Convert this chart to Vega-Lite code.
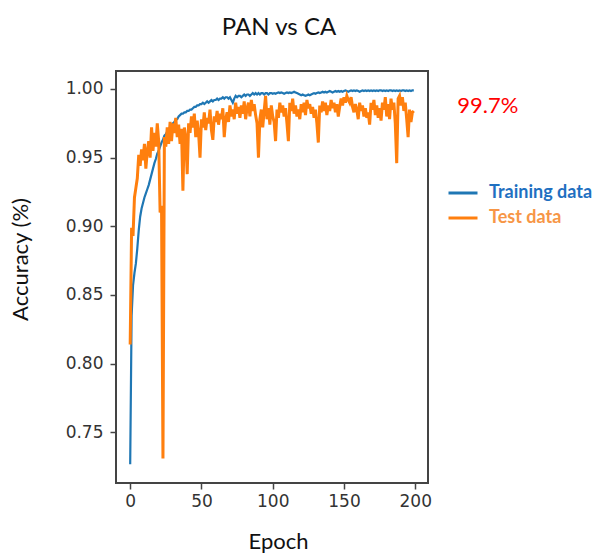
{
  "$schema": "https://vega.github.io/schema/vega-lite/v6.json",
  "width": 312,
  "height": 412,
  "autosize": {"type": "none"},
  "padding": {"left": 116, "top": 71, "right": 170, "bottom": 71},
  "background": "white",
  "title": {"text": "PAN vs CA", "font": "Lato", "fontSize": 24, "fontWeight": "normal", "color": "#111", "anchor": "middle", "dx": 7, "baseline": "alphabetic", "offset": 12},
  "config": {
    "view": {"stroke": "#444", "strokeWidth": 2},
    "axis": {"labelFont": "DejaVu Sans", "labelFontSize": 17, "labelColor": "#333", "tickColor": "#444", "tickWidth": 1.5, "tickSize": 6, "domain": false, "grid": false, "titleFont": "Lato", "titleFontSize": 22, "titleFontWeight": "normal", "titleColor": "#111"}
  },
  "data": {"values": [
{"epoch":0,"train":0.7267,"test":0.814},{"epoch":1,"train":0.835,"test":0.899},{"epoch":2,"train":0.857,"test":0.893},{"epoch":3,"train":0.866,"test":0.921},{"epoch":4,"train":0.873,"test":0.928},{"epoch":5,"train":0.884,"test":0.935},{"epoch":6,"train":0.897,"test":0.952},{"epoch":7,"train":0.907,"test":0.944},{"epoch":8,"train":0.913,"test":0.956},{"epoch":9,"train":0.917,"test":0.948},
{"epoch":10,"train":0.921,"test":0.96},{"epoch":11,"train":0.924,"test":0.942},{"epoch":12,"train":0.927,"test":0.955},{"epoch":13,"train":0.93,"test":0.962},{"epoch":14,"train":0.934,"test":0.95},{"epoch":15,"train":0.938,"test":0.972},{"epoch":16,"train":0.942,"test":0.955},{"epoch":17,"train":0.946,"test":0.968},{"epoch":18,"train":0.949,"test":0.958},{"epoch":19,"train":0.953,"test":0.975},
{"epoch":20,"train":0.955,"test":0.962},{"epoch":21,"train":0.958,"test":0.91},{"epoch":22,"train":0.961,"test":0.915},{"epoch":23,"train":0.963,"test":0.731},{"epoch":24,"train":0.966,"test":0.965},{"epoch":25,"train":0.967,"test":0.958},{"epoch":26,"train":0.969,"test":0.972},{"epoch":27,"train":0.971,"test":0.96},{"epoch":28,"train":0.972,"test":0.976},{"epoch":29,"train":0.974,"test":0.962},
{"epoch":30,"train":0.975,"test":0.975},{"epoch":31,"train":0.976,"test":0.968},{"epoch":32,"train":0.978,"test":0.979},{"epoch":33,"train":0.978,"test":0.965},{"epoch":34,"train":0.98,"test":0.974},{"epoch":35,"train":0.981,"test":0.96},{"epoch":36,"train":0.982,"test":0.971},{"epoch":37,"train":0.982,"test":0.926},{"epoch":38,"train":0.983,"test":0.972},{"epoch":39,"train":0.983,"test":0.965},
{"epoch":40,"train":0.984,"test":0.938},{"epoch":41,"train":0.984,"test":0.975},{"epoch":42,"train":0.985,"test":0.968},{"epoch":43,"train":0.985,"test":0.98},{"epoch":44,"train":0.986,"test":0.972},{"epoch":45,"train":0.987,"test":0.982},{"epoch":46,"train":0.987,"test":0.965},{"epoch":47,"train":0.988,"test":0.977},{"epoch":48,"train":0.988,"test":0.968},{"epoch":49,"train":0.989,"test":0.95},
{"epoch":50,"train":0.989,"test":0.978},{"epoch":51,"train":0.99,"test":0.972},{"epoch":52,"train":0.989,"test":0.983},{"epoch":53,"train":0.99,"test":0.97},{"epoch":54,"train":0.991,"test":0.979},{"epoch":55,"train":0.99,"test":0.975},{"epoch":56,"train":0.991,"test":0.985},{"epoch":57,"train":0.992,"test":0.97},{"epoch":58,"train":0.991,"test":0.963},{"epoch":59,"train":0.992,"test":0.98},
{"epoch":60,"train":0.992,"test":0.976},{"epoch":61,"train":0.993,"test":0.984},{"epoch":62,"train":0.992,"test":0.974},{"epoch":63,"train":0.993,"test":0.982},{"epoch":64,"train":0.993,"test":0.978},{"epoch":65,"train":0.994,"test":0.986},{"epoch":66,"train":0.993,"test":0.965},{"epoch":67,"train":0.994,"test":0.978},{"epoch":68,"train":0.994,"test":0.983},{"epoch":69,"train":0.993,"test":0.976},
{"epoch":70,"train":0.994,"test":0.988},{"epoch":71,"train":0.992,"test":0.98},{"epoch":72,"train":0.99,"test":0.985},{"epoch":73,"train":0.993,"test":0.978},{"epoch":74,"train":0.995,"test":0.99},{"epoch":75,"train":0.994,"test":0.982},{"epoch":76,"train":0.995,"test":0.987},{"epoch":77,"train":0.995,"test":0.979},{"epoch":78,"train":0.994,"test":0.988},{"epoch":79,"train":0.995,"test":0.982},
{"epoch":80,"train":0.996,"test":0.991},{"epoch":81,"train":0.995,"test":0.978},{"epoch":82,"train":0.996,"test":0.986},{"epoch":83,"train":0.996,"test":0.99},{"epoch":84,"train":0.995,"test":0.98},{"epoch":85,"train":0.996,"test":0.992},{"epoch":86,"train":0.997,"test":0.984},{"epoch":87,"train":0.996,"test":0.989},{"epoch":88,"train":0.997,"test":0.981},{"epoch":89,"train":0.996,"test":0.975},
{"epoch":90,"train":0.997,"test":0.95},{"epoch":91,"train":0.996,"test":0.978},{"epoch":92,"train":0.997,"test":0.985},{"epoch":93,"train":0.997,"test":0.972},{"epoch":94,"train":0.996,"test":0.984},{"epoch":95,"train":0.997,"test":0.995},{"epoch":96,"train":0.997,"test":0.978},{"epoch":97,"train":0.996,"test":0.986},{"epoch":98,"train":0.997,"test":0.974},{"epoch":99,"train":0.997,"test":0.988},
{"epoch":100,"train":0.9965,"test":0.98},{"epoch":101,"train":0.997,"test":0.976},{"epoch":102,"train":0.9965,"test":0.962},{"epoch":103,"train":0.997,"test":0.985},{"epoch":104,"train":0.9975,"test":0.979},{"epoch":105,"train":0.997,"test":0.99},{"epoch":106,"train":0.9975,"test":0.983},{"epoch":107,"train":0.997,"test":0.988},{"epoch":108,"train":0.9965,"test":0.98},{"epoch":109,"train":0.997,"test":0.986},
{"epoch":110,"train":0.9975,"test":0.975},{"epoch":111,"train":0.997,"test":0.962},{"epoch":112,"train":0.9975,"test":0.99},{"epoch":113,"train":0.997,"test":0.984},{"epoch":114,"train":0.9975,"test":0.993},{"epoch":115,"train":0.998,"test":0.982},{"epoch":116,"train":0.9975,"test":0.988},{"epoch":117,"train":0.997,"test":0.98},{"epoch":118,"train":0.9965,"test":0.985},{"epoch":119,"train":0.996,"test":0.978},
{"epoch":120,"train":0.9955,"test":0.989},{"epoch":121,"train":0.996,"test":0.983},{"epoch":122,"train":0.9955,"test":0.99},{"epoch":123,"train":0.995,"test":0.981},{"epoch":124,"train":0.9955,"test":0.992},{"epoch":125,"train":0.996,"test":0.986},{"epoch":126,"train":0.9955,"test":0.989},{"epoch":127,"train":0.996,"test":0.982},{"epoch":128,"train":0.9965,"test":0.987},{"epoch":129,"train":0.997,"test":0.979},
{"epoch":130,"train":0.9965,"test":0.985},{"epoch":131,"train":0.997,"test":0.975},{"epoch":132,"train":0.9975,"test":0.961},{"epoch":133,"train":0.997,"test":0.988},{"epoch":134,"train":0.9975,"test":0.983},{"epoch":135,"train":0.998,"test":0.991},{"epoch":136,"train":0.9975,"test":0.984},{"epoch":137,"train":0.998,"test":0.99},{"epoch":138,"train":0.9975,"test":0.981},{"epoch":139,"train":0.998,"test":0.988},
{"epoch":140,"train":0.9985,"test":0.984},{"epoch":141,"train":0.998,"test":0.992},{"epoch":142,"train":0.9975,"test":0.986},{"epoch":143,"train":0.998,"test":0.99},{"epoch":144,"train":0.9985,"test":0.983},{"epoch":145,"train":0.998,"test":0.989},{"epoch":146,"train":0.9985,"test":0.98},{"epoch":147,"train":0.998,"test":0.987},{"epoch":148,"train":0.9985,"test":0.993},{"epoch":149,"train":0.998,"test":0.988},
{"epoch":150,"train":0.9985,"test":0.994},{"epoch":151,"train":0.999,"test":0.99},{"epoch":152,"train":0.9985,"test":0.995},{"epoch":153,"train":0.998,"test":0.992},{"epoch":154,"train":0.9985,"test":0.99},{"epoch":155,"train":0.999,"test":0.994},{"epoch":156,"train":0.9985,"test":0.987},{"epoch":157,"train":0.999,"test":0.983},{"epoch":158,"train":0.9985,"test":0.989},{"epoch":159,"train":0.999,"test":0.985},
{"epoch":160,"train":0.9985,"test":0.978},{"epoch":161,"train":0.998,"test":0.99},{"epoch":162,"train":0.9985,"test":0.984},{"epoch":163,"train":0.999,"test":0.988},{"epoch":164,"train":0.9985,"test":0.98},{"epoch":165,"train":0.999,"test":0.986},{"epoch":166,"train":0.9985,"test":0.979},{"epoch":167,"train":0.999,"test":0.983},{"epoch":168,"train":0.9985,"test":0.974},{"epoch":169,"train":0.999,"test":0.99},
{"epoch":170,"train":0.9985,"test":0.985},{"epoch":171,"train":0.999,"test":0.992},{"epoch":172,"train":0.9985,"test":0.981},{"epoch":173,"train":0.999,"test":0.988},{"epoch":174,"train":0.9985,"test":0.979},{"epoch":175,"train":0.999,"test":0.986},{"epoch":176,"train":0.999,"test":0.977},{"epoch":177,"train":0.9985,"test":0.99},{"epoch":178,"train":0.999,"test":0.985},{"epoch":179,"train":0.9985,"test":0.994},
{"epoch":180,"train":0.999,"test":0.98},{"epoch":181,"train":0.9985,"test":0.989},{"epoch":182,"train":0.999,"test":0.978},{"epoch":183,"train":0.999,"test":0.993},{"epoch":184,"train":0.9985,"test":0.985},{"epoch":185,"train":0.999,"test":0.99},{"epoch":186,"train":0.9985,"test":0.975},{"epoch":187,"train":0.999,"test":0.946},{"epoch":188,"train":0.9985,"test":0.993},{"epoch":189,"train":0.999,"test":0.995},
{"epoch":190,"train":0.9985,"test":0.988},{"epoch":191,"train":0.999,"test":0.994},{"epoch":192,"train":0.999,"test":0.984},{"epoch":193,"train":0.9985,"test":0.99},{"epoch":194,"train":0.999,"test":0.978},{"epoch":195,"train":0.9985,"test":0.965},{"epoch":196,"train":0.999,"test":0.985},{"epoch":197,"train":0.9985,"test":0.976},{"epoch":198,"train":0.999,"test":0.983},{"epoch":199,"train":0.999,"test":0.984}
  ]},
  "layer": [
    {
      "mark": {"type": "line", "strokeWidth": 2.2},
      "encoding": {
        "x": {"field": "epoch", "type": "quantitative", "scale": {"domain": [-9.95, 208.95], "nice": false, "zero": false},
              "axis": {"values": [0, 50, 100, 150, 200], "labelPadding": 4, "title": "Epoch", "titleX": 162, "titleY": 65, "titleBaseline": "alphabetic", "titleAlign": "center"}},
        "y": {"field": "train", "type": "quantitative", "scale": {"domain": [0.7131, 1.0131], "nice": false, "zero": false},
              "axis": {"values": [0.75, 0.8, 0.85, 0.9, 0.95, 1.0], "format": ".2f", "labelPadding": 7, "title": "Accuracy (%)", "titleX": -88.5, "titleY": 188, "titleAngle": -90, "titleBaseline": "alphabetic", "titleAlign": "center"}},
        "color": {"datum": "Training data", "type": "nominal",
                  "scale": {"domain": ["Training data", "Test data"], "range": ["#1f77b4", "#ff7f0e"]},
                  "legend": {"orient": "none", "legendX": 331, "legendY": 106, "title": null, "symbolType": "stroke", "symbolSize": 841, "symbolStrokeWidth": 3, "labelFont": "Lato", "labelFontSize": 18, "labelFontWeight": "bold", "labelOffset": 10, "rowPadding": -3,
                             "encode": {"labels": {"update": {"fill": {"signal": "datum.label === 'Training data' ? '#1f70c1' : '#f79646'"}}},
                                        "symbols": {"update": {"stroke": {"signal": "datum.value === 'Training data' ? '#4f81bd' : '#f79646'"}}}}}}
      }
    },
    {
      "mark": {"type": "line", "strokeWidth": 3},
      "encoding": {
        "x": {"field": "epoch", "type": "quantitative"},
        "y": {"field": "test", "type": "quantitative", "axis": {"title": "Accuracy (%)"}},
        "color": {"datum": "Test data", "type": "nominal"}
      }
    },
    {
      "data": {"values": [{"note": "99.7%", "ex": 229.5, "acc": 0.9827}]},
      "mark": {"type": "text", "font": "Lato", "fontSize": 22, "color": "#ff0000", "align": "left", "baseline": "alphabetic", "clip": false},
      "encoding": {
        "x": {"field": "ex", "type": "quantitative"},
        "y": {"field": "acc", "type": "quantitative"},
        "text": {"field": "note"}
      }
    }
  ]
}
